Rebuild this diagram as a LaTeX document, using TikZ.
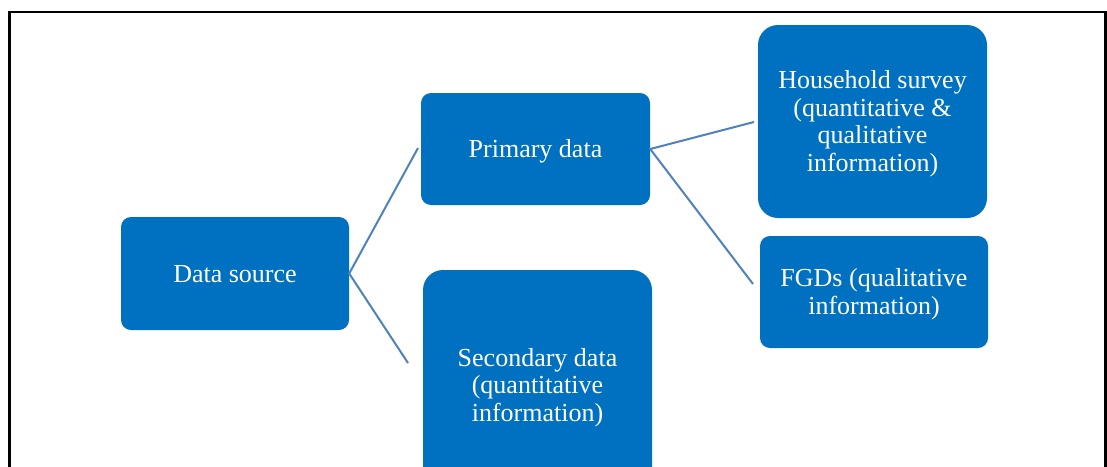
\documentclass[tikz,border=0pt]{standalone}
\usepackage{fontspec}
\setmainfont{Liberation Serif}
\definecolor{boxblue}{HTML}{0070C0}
\definecolor{linkblue}{HTML}{4F81BD}
% fixed line struts so every label sits on the same optical centre
\newcommand\firstln{\rule{0pt}{23pt}}
\newcommand\lastln{\rule[-6pt]{0pt}{6pt}}
\begin{document}
\begin{tikzpicture}[x=1pt,y=-1pt,
  box/.style={fill=boxblue, text=white, align=center, inner sep=0pt,
    font=\fontsize{26}{27.5}\selectfont, rounded corners=#1},
  box/.default=10pt,
  link/.style={draw=linkblue, line width=2pt}]
\useasboundingbox (0,0) rectangle (1107,466);
\clip (0,0) rectangle (1107,466);
% outer frame (runs past the lower edge)
\draw[line width=2.5pt] (9.5,12) rectangle (1105.5,490);
% boxes
\node[box, minimum width=228pt, minimum height=113pt] (ds) at (235,273.5)
  {\firstln Data source\lastln};
\node[box, minimum width=229pt, minimum height=112pt] (prim) at (535.5,149)
  {\firstln Primary data\lastln};
\node[box=20pt, minimum width=229pt, minimum height=230pt] (sec) at (537.5,385)
  {\firstln Secondary data\\(quantitative\\information)\lastln};
\node[box=20pt, minimum width=229pt, minimum height=193pt] (hh) at (872.5,121.5)
  {\firstln Household survey\\(quantitative \&\\qualitative\\information)\lastln};
\node[box, minimum width=228pt, minimum height=112pt] (fgd) at (874,292)
  {\firstln FGDs (qualitative\\information)\lastln};
% connector ends
\coordinate (pIn) at (418,148);
\coordinate (sIn) at (408,363);
\coordinate (hIn) at (754,122);
\coordinate (fIn) at (753,284);
\draw[link] (pIn) -- (ds.east) -- (sIn);
\draw[link] (hIn) -- (prim.east) -- (fIn);
\end{tikzpicture}
\end{document}
